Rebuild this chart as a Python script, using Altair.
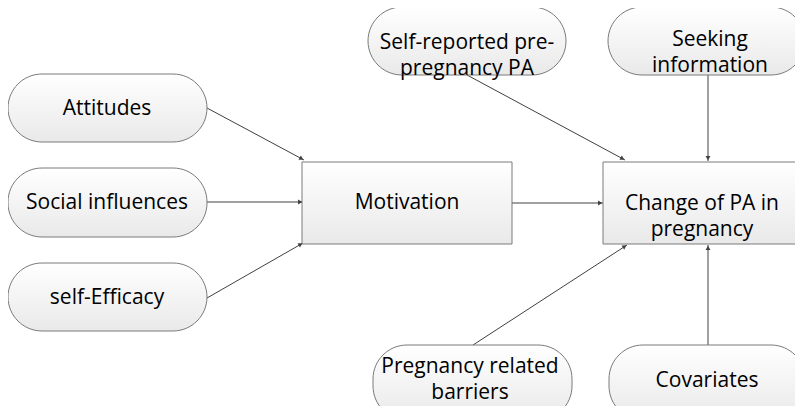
import math
import altair as alt
import pandas as pd

# Node layout (page pixel coordinates): label, left, right, top, bottom, kind
node_labels = ["Attitudes", "Social influences", "self-Efficacy", "Motivation",
               "Change of PA in\npregnancy", "Self-reported pre-\npregnancy PA",
               "Seeking\ninformation", "Pregnancy related\nbarriers", "Covariates"]
node_x1 = [8, 8, 8, 302, 603, 368, 608, 373, 609]
node_x2 = [207, 207, 207, 512, 802, 566, 805, 572, 805]
node_y1 = [74, 168, 263, 162, 162, 7, 7, 345, 345]
node_y2 = [142, 237, 331, 244, 244, 75, 75, 420, 420]
node_kind = ["pill", "pill", "pill", "box", "box", "pill", "pill", "pill", "pill"]
label_x = [107, 107, 107, 407, 702, 467, 710, 470, 707]
label_y = [109, 203, 298, 203, 204, 43, 40, 367, 381]

# Arrows: start and end points
arrow_x1 = [207, 207, 207, 512, 467, 708, 473, 708]
arrow_y1 = [108, 202, 298, 203, 75, 75, 345, 345]
arrow_x2 = [304, 303, 303, 603, 625, 708, 627, 708]
arrow_y2 = [160, 202, 243, 203, 160, 161, 245, 245]

nodes = pd.DataFrame({
    "label": node_labels, "x1": node_x1, "x2": node_x2,
    "y1": node_y1, "y2": node_y2, "kind": node_kind,
    "cx": label_x, "cy": label_y,
})

arrows = pd.DataFrame({"x1": arrow_x1, "y1": arrow_y1, "x2": arrow_x2, "y2": arrow_y2})
heads = []
for r in arrows.itertuples():
    dx, dy = r.x2 - r.x1, r.y2 - r.y1
    L = math.hypot(dx, dy)
    ang = math.degrees(math.atan2(dx, -dy)) % 360
    heads.append({"hx": r.x2 - dx / L * 3.5, "hy": r.y2 - dy / L * 3.5, "ang": ang})
heads = pd.DataFrame(heads)

W, H = 787, 398
xs = alt.Scale(domain=[8, 8 + W], nice=False, zero=False)
ys = alt.Scale(domain=[8, 8 + H], nice=False, zero=False, reverse=True)

grad = alt.LinearGradient(
    gradient="linear",
    stops=[alt.GradientStop(color="#ffffff", offset=0),
           alt.GradientStop(color="#e9e9e9", offset=1)],
    x1=0, x2=0, y1=0, y2=1,
)

rules = alt.Chart(arrows).mark_rule(color="#404040", strokeWidth=1, clip=True).encode(
    x=alt.X("x1:Q", scale=xs, axis=None), y=alt.Y("y1:Q", scale=ys, axis=None),
    x2="x2:Q", y2="y2:Q",
)

pills = alt.Chart(nodes).transform_filter(alt.datum.kind == "pill").mark_rect(
    fill=grad, stroke="#7a7a7a", strokeWidth=1, cornerRadius=34, clip=True
).encode(
    x=alt.X("x1:Q", scale=xs, axis=None), x2="x2:Q",
    y=alt.Y("y1:Q", scale=ys, axis=None), y2="y2:Q",
)

boxes = alt.Chart(nodes).transform_filter(alt.datum.kind == "box").mark_rect(
    fill=grad, stroke="#7a7a7a", strokeWidth=1, clip=True
).encode(
    x=alt.X("x1:Q", scale=xs, axis=None), x2="x2:Q",
    y=alt.Y("y1:Q", scale=ys, axis=None), y2="y2:Q",
)

arrowheads = alt.Chart(heads).mark_point(
    shape="triangle", filled=True, color="#404040", size=24, opacity=1
).encode(
    x=alt.X("hx:Q", scale=xs, axis=None), y=alt.Y("hy:Q", scale=ys, axis=None),
    angle=alt.Angle("ang:Q", scale=None),
)

texts = alt.Chart(nodes).mark_text(
    font="Open Sans", fontSize=21, color="#000000", lineBreak="\n", lineHeight=26,
    align="center", baseline="middle",
).encode(
    x=alt.X("cx:Q", scale=xs, axis=None), y=alt.Y("cy:Q", scale=ys, axis=None),
    text="label:N",
)

chart = alt.layer(rules, pills, boxes, arrowheads, texts).properties(
    width=W, height=H, padding=0, autosize=alt.AutoSizeParams(type="none"),
    background="white",
).configure_view(stroke=None)

chart.save("out.html", embed_options={"renderer": "svg", "actions": False})
